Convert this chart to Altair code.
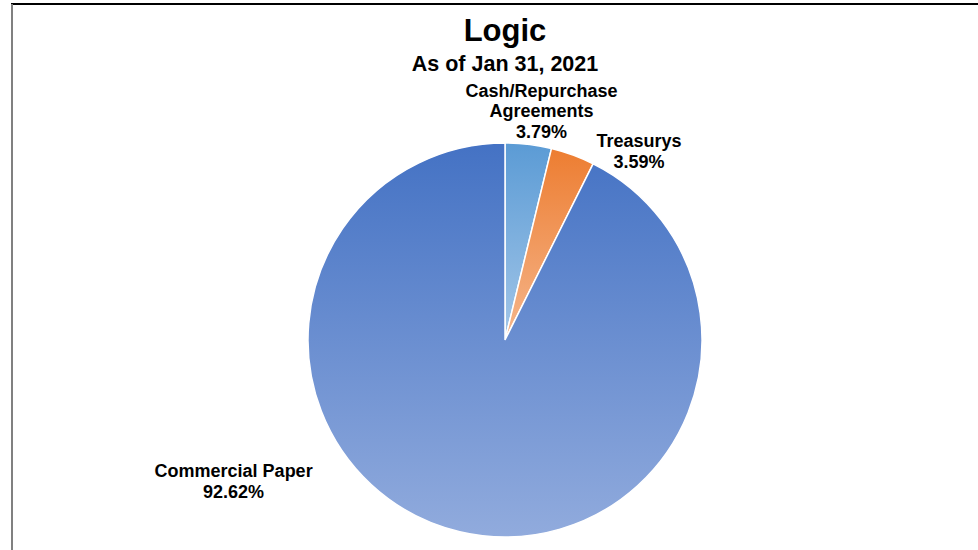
import altair as alt
import pandas as pd

# ---- data ----
categories = ["Cash/Repurchase Agreements", "Treasurys", "Commercial Paper"]
label_lines = ["Cash/Repurchase\nAgreements", "Treasurys", "Commercial Paper"]
values = [3.79, 3.59, 92.62]
order = [1, 2, 3]

df = pd.DataFrame({"category": categories, "label": label_lines,
                   "value": values, "order": order})

FONT = "Liberation Sans"

def grad(top, bottom):
    return alt.Gradient(
        gradient="linear",
        stops=[alt.GradientStop(color=top, offset=0),
               alt.GradientStop(color=bottom, offset=1)],
        x1=0, x2=0, y1=0, y2=1)

fills = {
    "Cash/Repurchase Agreements": grad("#5B9BD5", "#A3C6E8"),
    "Treasurys": grad("#ED7D31", "#F5B68C"),
    "Commercial Paper": grad("#4472C4", "#91ABDD"),
}
label_offsets = {
    "Cash/Repurchase Agreements": (11, -35),
    "Treasurys": (60, 4),
    "Commercial Paper": (-222, -77),
}

base = alt.Chart(df).transform_window(
    cum="sum(value)", sort=[alt.SortField("order")]
).transform_calculate(
    start="datum.cum - datum.value",
    mid="datum.cum - datum.value / 2",
    txt="datum.label + '\\n' + format(datum.value, '.2f') + '%'",
)

theta_scale = alt.Scale(domain=[0, 100])

layers = []
for cat in categories:
    layers.append(
        base.transform_filter(alt.datum.category == cat)
        .mark_arc(fill=fills[cat], stroke="white", strokeWidth=1.5)
        .encode(theta=alt.Theta("start:Q", scale=theta_scale),
                theta2="cum:Q")
    )
for cat in categories:
    dx, dy = label_offsets[cat]
    layers.append(
        base.transform_filter(alt.datum.category == cat)
        .mark_text(radius=215, dx=dx, dy=dy, align="center", baseline="middle",
                   lineBreak="\n", lineHeight=20.5, font=FONT, fontSize=18,
                   fontWeight="bold", color="#000000")
        .encode(theta=alt.Theta("mid:Q", scale=theta_scale), text="txt:N")
    )

frame = alt.Data(values=[{"k": 1}])
top_rule = alt.Chart(frame).mark_rule(color="#000000", strokeWidth=2).encode(
    x=alt.value(-297), x2=alt.value(672), y=alt.value(-139))
left_rule = alt.Chart(frame).mark_rule(color="#808080", strokeWidth=2).encode(
    x=alt.value(-296), y=alt.value(-139), y2=alt.value(410))

chart = alt.layer(*layers, top_rule, left_rule).properties(
    width=394, height=394,
    padding={"left": 308, "top": 143, "right": 276, "bottom": 13},
    autosize=alt.AutoSizeParams(type="none"),
    background="white",
    title=alt.TitleParams(
        text="Logic", subtitle="As of Jan 31, 2021",
        font=FONT, fontSize=31, fontWeight="bold", color="#000000",
        subtitleFont=FONT, subtitleFontSize=21.5, subtitleFontWeight="bold",
        subtitleColor="#000000", subtitlePadding=6,
        anchor="middle", frame="group", offset=-73),
).configure_view(stroke=None)

chart.save("out.html", embed_options={"renderer": "svg", "actions": False})
